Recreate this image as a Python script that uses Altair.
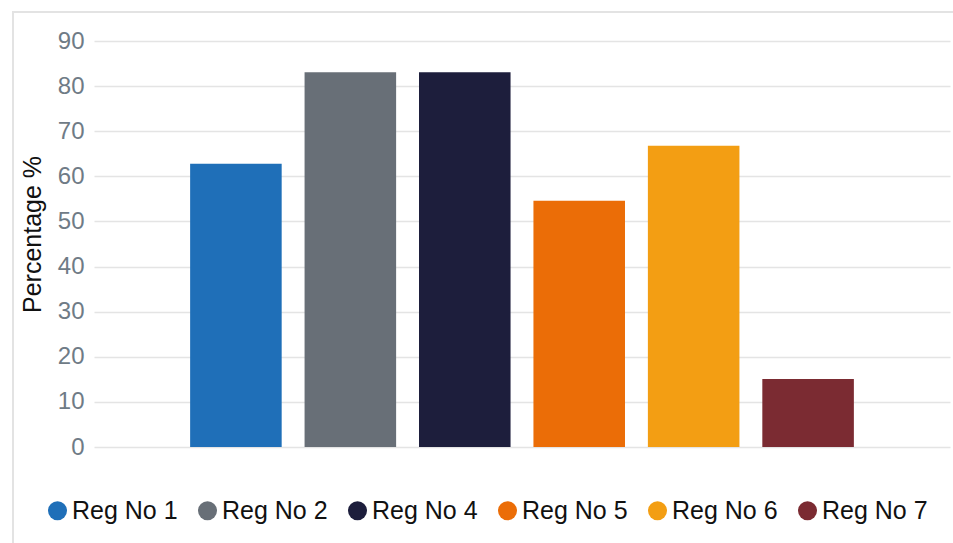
import altair as alt
import pandas as pd

categories = ["Reg No 1", "Reg No 2", "Reg No 4", "Reg No 5", "Reg No 6", "Reg No 7"]
values = [62.8, 83.1, 83.1, 54.6, 66.8, 15.1]
colors = ["#1f6fb8", "#686f77", "#1d1e3c", "#eb6d07", "#f39e13", "#7b2b32"]
y_ticks = [0, 10, 20, 30, 40, 50, 60, 70, 80, 90]

df = pd.DataFrame({"Region": categories, "Percentage": values})

W, H = 856, 406
FONT = "Liberation Sans"

frame = alt.Chart(pd.DataFrame({"k": [0]})).mark_rect(
    fill="transparent", stroke="#e3e3e3", strokeWidth=2
).encode(
    x=alt.value(-81), x2=alt.value(W + 30),
    y=alt.value(-29), y2=alt.value(H + 130)
)

bars = alt.Chart(df).mark_bar().encode(
    x=alt.X("Region:N", sort=categories, axis=None,
            scale=alt.Scale(paddingInner=0.2, paddingOuter=0.84)),
    y=alt.Y("Percentage:Q",
            scale=alt.Scale(domain=[0, 90], nice=False),
            axis=alt.Axis(values=y_ticks, title="Percentage %", domain=False, ticks=False,
                          labelPadding=10, labelFontSize=24, labelColor="#6f7b86",
                          labelFont=FONT, titleFont=FONT, titleFontSize=25,
                          titleFontWeight="normal", titleColor="#111111",
                          titleX=-62, titleY=193, titleAlign="center",
                          titleBaseline="middle", titleAngle=270,
                          gridColor="#e4e4e4", gridWidth=1.5)),
    color=alt.Color("Region:N", sort=categories,
                    scale=alt.Scale(domain=categories, range=colors),
                    legend=alt.Legend(orient="none", legendX=-49, legendY=457,
                                      direction="horizontal", title=None,
                                      symbolType="circle", symbolSize=361,
                                      symbolStrokeWidth=0, symbolOpacity=1,
                                      labelFontSize=25, labelFont=FONT,
                                      labelColor="#111111", labelOffset=2,
                                      columnPadding=17, padding=0))
)

chart = alt.layer(frame, bars).properties(
    width=W, height=H,
    padding={"left": 94, "top": 41, "right": 3, "bottom": 96},
    autosize=alt.AutoSizeParams(type="none")
).configure_view(stroke=None)

chart.save("out.html", embed_options={"renderer": "svg", "actions": False})
